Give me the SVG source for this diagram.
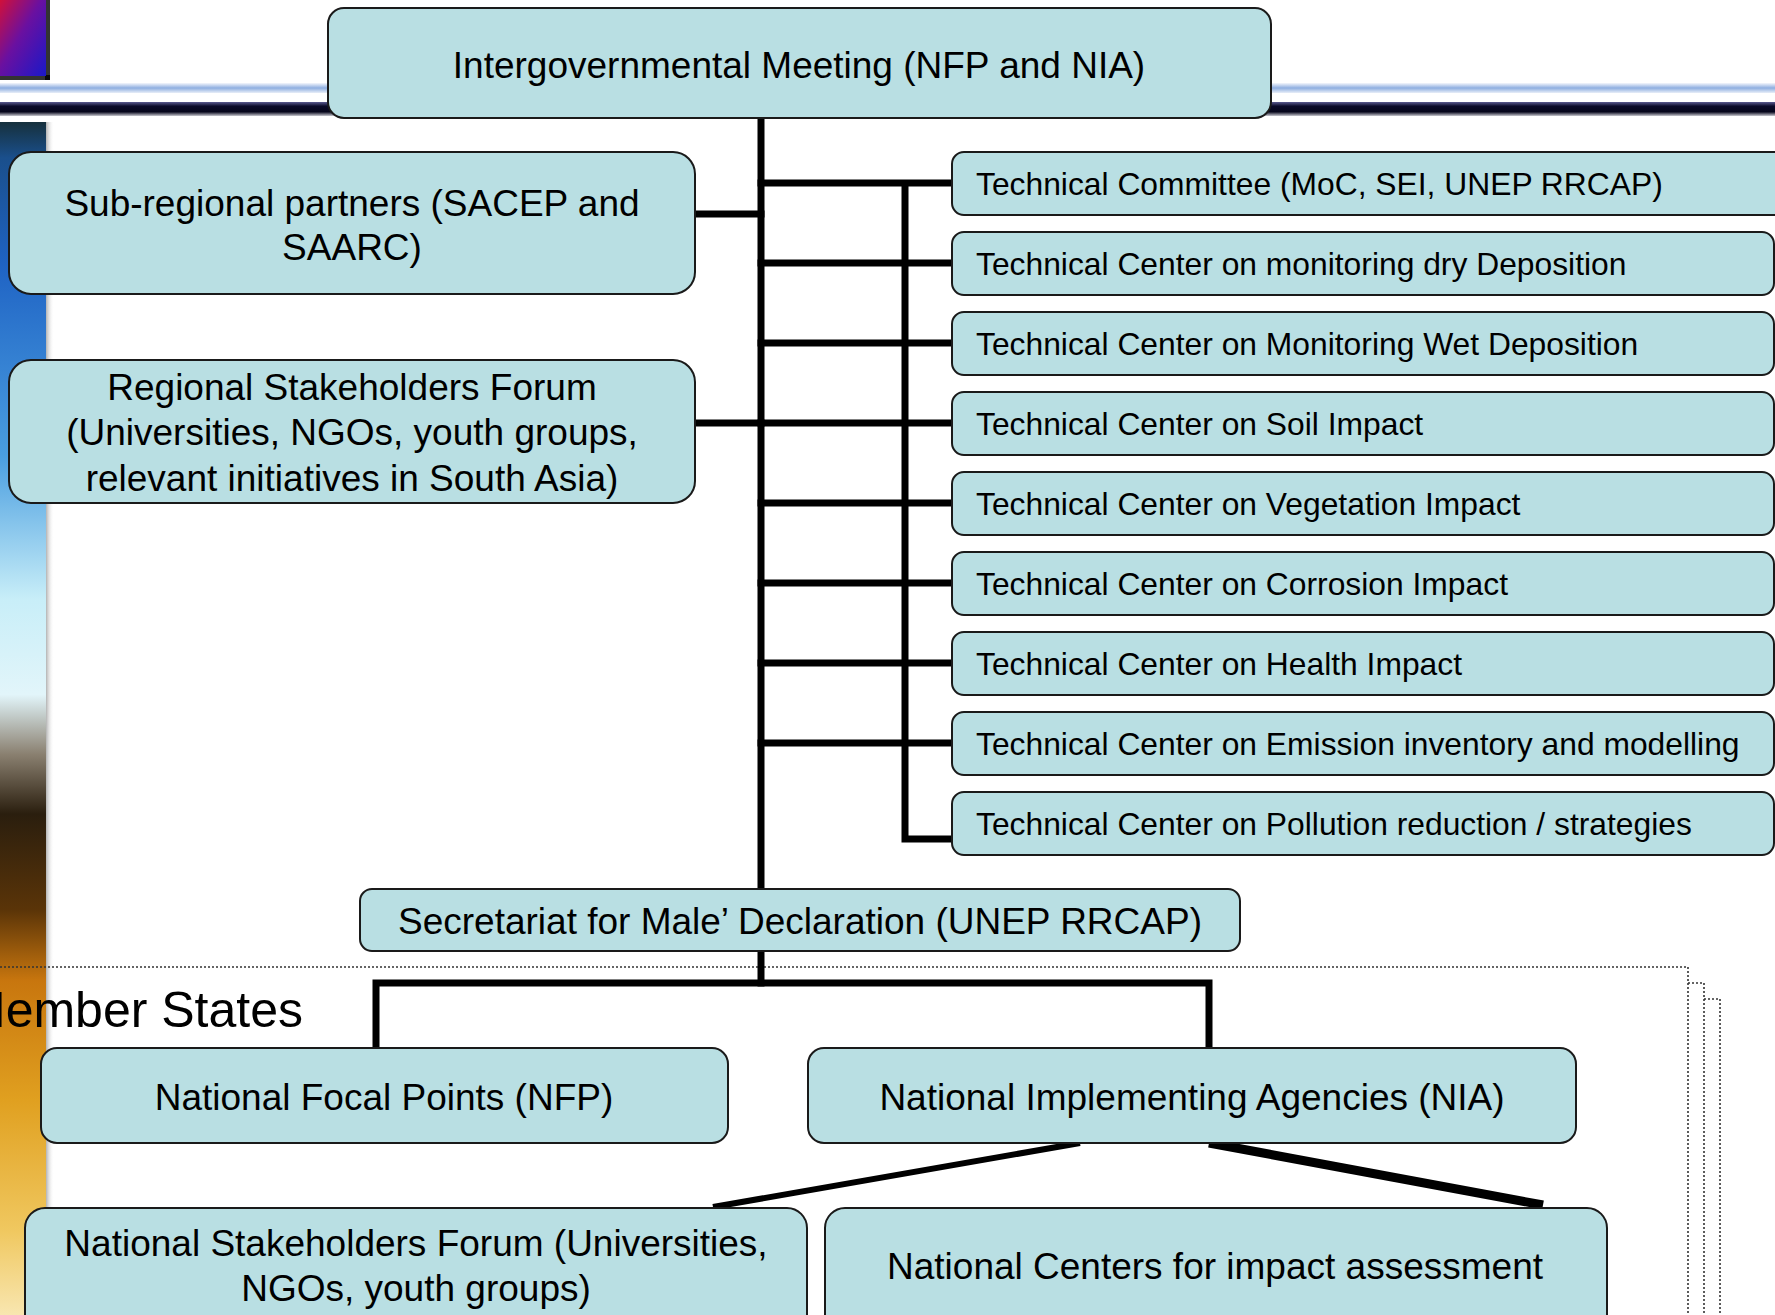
<svg xmlns="http://www.w3.org/2000/svg" width="1775" height="1315" viewBox="0 0 1775 1315">
<defs>
<linearGradient id="sq" x1="0" y1="0" x2="1" y2="1">
<stop offset="0" stop-color="#d0103a"/>
<stop offset="0.45" stop-color="#6a10a0"/>
<stop offset="1" stop-color="#1a18c8"/>
</linearGradient>
<linearGradient id="bar" x1="0" y1="0" x2="0" y2="1">
<stop offset="0" stop-color="#16303c"/>
<stop offset="0.03" stop-color="#1a4f8c"/>
<stop offset="0.12" stop-color="#1f63c4"/>
<stop offset="0.28" stop-color="#4a9ee0"/>
<stop offset="0.40" stop-color="#c8eef8"/>
<stop offset="0.48" stop-color="#e2f5fa"/>
<stop offset="0.53" stop-color="#8a8070"/>
<stop offset="0.58" stop-color="#2a1e0e"/>
<stop offset="0.66" stop-color="#5a3408"/>
<stop offset="0.72" stop-color="#c8760e"/>
<stop offset="0.82" stop-color="#e0a020"/>
<stop offset="0.93" stop-color="#f0c860"/>
<stop offset="1" stop-color="#f8e6b0"/>
</linearGradient>
<linearGradient id="lband" x1="0" y1="0" x2="0" y2="1">
<stop offset="0" stop-color="#f4f6fc"/>
<stop offset="0.5" stop-color="#8eaee0"/>
<stop offset="1" stop-color="#e8eef8"/>
</linearGradient>
<linearGradient id="dband" x1="0" y1="0" x2="0" y2="1">
<stop offset="0" stop-color="#5a5a90"/>
<stop offset="0.3" stop-color="#0a0a28"/>
<stop offset="0.7" stop-color="#05051a"/>
<stop offset="1" stop-color="#c8c8d0"/>
</linearGradient>
<linearGradient id="barshade" x1="0" y1="0" x2="1" y2="0">
<stop offset="0" stop-color="#808080" stop-opacity="0.6"/>
<stop offset="1" stop-color="#ffffff" stop-opacity="0"/>
</linearGradient>
</defs>
<style>
.box{fill:#b9dfe3;stroke:#1a1a1a;stroke-width:2}
.t{font-family:"Liberation Sans",Arial,sans-serif;fill:#000}
.big{font-size:37px;text-anchor:middle}
.tech{font-size:31.8px}
.con{stroke:#000;stroke-width:7;fill:none;stroke-linecap:square}
.dot{stroke:#333;stroke-width:1.6;fill:none;stroke-dasharray:2 2}
</style>
<rect width="1775" height="1315" fill="#fff"/>
<g id="background">
<rect x="0" y="83" width="1775" height="10" fill="url(#lband)"/>
<rect x="0" y="102" width="1775" height="14" fill="url(#dband)"/>
<rect x="45" y="0" width="5" height="80" fill="#000" opacity="0.8"/>
<rect x="0" y="75" width="50" height="5" fill="#000" opacity="0.8"/>
<rect x="0" y="0" width="46" height="76" fill="url(#sq)"/>
<rect x="0" y="122" width="46" height="1193" fill="url(#bar)"/>
<rect x="46" y="122" width="8" height="1193" fill="url(#barshade)"/>
</g>
<g id="dotted-frame">
<path class="dot" d="M0 967 H1688 V1315"/>
<path class="dot" d="M1688 983 H1704 V1315"/>
<path class="dot" d="M1704 999 H1720 V1315"/>
</g>
<text class="t" x="-36" y="1027" font-size="50">Member States</text>
<g id="connectors">
<line class="con" x1="761" y1="118" x2="761" y2="889"/>
<line class="con" x1="761" y1="951" x2="761" y2="983"/>
<line class="con" x1="695" y1="214" x2="761" y2="214"/>
<line class="con" x1="695" y1="423" x2="761" y2="423"/>
<line class="con" x1="761" y1="183" x2="952" y2="183"/>
<line class="con" x1="761" y1="263" x2="952" y2="263"/>
<line class="con" x1="761" y1="343" x2="952" y2="343"/>
<line class="con" x1="761" y1="423" x2="952" y2="423"/>
<line class="con" x1="761" y1="503" x2="952" y2="503"/>
<line class="con" x1="761" y1="583" x2="952" y2="583"/>
<line class="con" x1="761" y1="663" x2="952" y2="663"/>
<line class="con" x1="761" y1="743" x2="952" y2="743"/>
<path class="con" d="M905 186 V839 H952"/>
<path class="con" d="M376 1047 V983 H1209 V1047"/>
<line x1="1080" y1="1143" x2="713" y2="1207" stroke="#000" stroke-width="6"/>
<line x1="1209" y1="1143" x2="1543" y2="1205" stroke="#000" stroke-width="9"/>
</g>
<g id="n-igm">
<rect class="box" x="328" y="8" width="943" height="110" rx="16"/>
<text class="t big" x="799" y="78">Intergovernmental Meeting (NFP and NIA)</text>
</g>
<g id="n-subregional">
<rect class="box" x="9" y="152" width="686" height="142" rx="22"/>
<text class="t big" x="352" y="216">Sub-regional partners (SACEP and</text>
<text class="t big" x="352" y="260">SAARC)</text>
</g>
<g id="n-regional">
<rect class="box" x="9" y="360" width="686" height="143" rx="22"/>
<text class="t big" x="352" y="400">Regional Stakeholders Forum</text>
<text class="t big" x="352" y="445">(Universities, NGOs, youth groups,</text>
<text class="t big" x="352" y="491">relevant initiatives in South Asia)</text>
</g>
<g id="n-tc">
<rect class="box" x="952" y="152" width="840" height="63" rx="12"/>
<text class="t tech" x="976" y="195">Technical Committee (MoC, SEI, UNEP RRCAP)</text>
</g>
<g id="n-dry">
<rect class="box" x="952" y="232" width="822" height="63" rx="12"/>
<text class="t tech" x="976" y="275">Technical Center on monitoring dry Deposition</text>
</g>
<g id="n-wet">
<rect class="box" x="952" y="312" width="822" height="63" rx="12"/>
<text class="t tech" x="976" y="355">Technical Center on Monitoring Wet Deposition</text>
</g>
<g id="n-soil">
<rect class="box" x="952" y="392" width="822" height="63" rx="12"/>
<text class="t tech" x="976" y="435">Technical Center on Soil Impact</text>
</g>
<g id="n-veg">
<rect class="box" x="952" y="472" width="822" height="63" rx="12"/>
<text class="t tech" x="976" y="515">Technical Center on Vegetation Impact</text>
</g>
<g id="n-corr">
<rect class="box" x="952" y="552" width="822" height="63" rx="12"/>
<text class="t tech" x="976" y="595">Technical Center on Corrosion Impact</text>
</g>
<g id="n-health">
<rect class="box" x="952" y="632" width="822" height="63" rx="12"/>
<text class="t tech" x="976" y="675">Technical Center on Health Impact</text>
</g>
<g id="n-emission">
<rect class="box" x="952" y="712" width="822" height="63" rx="12"/>
<text class="t tech" x="976" y="755">Technical Center on Emission inventory and modelling</text>
</g>
<g id="n-pollution">
<rect class="box" x="952" y="792" width="822" height="63" rx="12"/>
<text class="t tech" x="976" y="835">Technical Center on Pollution reduction / strategies</text>
</g>
<g id="n-secretariat">
<rect class="box" x="360" y="889" width="880" height="62" rx="12"/>
<text class="t big" x="800" y="934">Secretariat for Male’ Declaration (UNEP RRCAP)</text>
</g>
<g id="n-nfp">
<rect class="box" x="41" y="1048" width="687" height="95" rx="16"/>
<text class="t big" x="384" y="1110">National Focal Points (NFP)</text>
</g>
<g id="n-nia">
<rect class="box" x="808" y="1048" width="768" height="95" rx="16"/>
<text class="t big" x="1192" y="1110">National Implementing Agencies (NIA)</text>
</g>
<g id="n-nsf">
<rect class="box" x="25" y="1208" width="782" height="130" rx="20"/>
<text class="t big" x="416" y="1256">National Stakeholders Forum (Universities,</text>
<text class="t big" x="416" y="1301">NGOs, youth groups)</text>
</g>
<g id="n-ncia">
<rect class="box" x="825" y="1208" width="782" height="130" rx="20"/>
<text class="t big" x="1215" y="1279">National Centers for impact assessment</text>
</g>
</svg>
